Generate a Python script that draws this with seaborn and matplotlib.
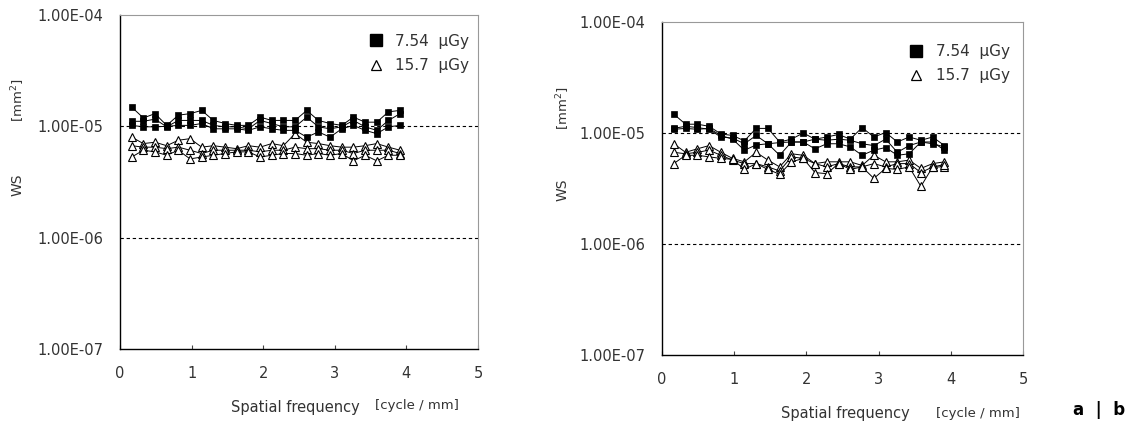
import numpy as np
import pandas as pd
import matplotlib
matplotlib.use("Agg")
import matplotlib.pyplot as plt
from matplotlib.lines import Line2D
import seaborn as sns

sns.set_theme(style="white")
plt.rcParams['font.family'] = ['DejaVu Sans']

# spatial frequency sample points [cycle/mm]
freq = [0.163, 0.326, 0.489, 0.652, 0.815, 0.978, 1.141, 1.304, 1.467, 1.630, 1.793, 1.956,
        2.119, 2.282, 2.445, 2.608, 2.771, 2.934, 3.097, 3.260, 3.423, 3.586, 3.749, 3.912]

# panel a, 7.54 uGy (x1e-5 mm^2)
a_sq1 = [1.49, 1.19, 1.30, 1.02, 1.26, 1.30, 1.39, 1.13, 1.06, 1.02, 1.02, 1.21,
         1.13, 1.13, 1.13, 1.39, 1.13, 1.06, 1.02, 1.21, 1.09, 1.09, 1.35, 1.39]
a_sq2 = [1.11, 1.11, 1.16, 0.99, 1.13, 1.13, 1.13, 1.02, 0.99, 0.99, 0.95, 1.13,
         1.06, 0.99, 0.99, 1.21, 0.99, 0.95, 0.99, 1.13, 0.99, 0.92, 1.13, 1.30]
a_sq3 = [1.02, 0.99, 0.99, 1.00, 1.02, 1.02, 1.06, 0.95, 0.95, 0.95, 0.92, 0.99,
         0.95, 0.92, 0.92, 0.80, 0.89, 0.80, 0.95, 1.02, 0.92, 0.86, 0.99, 1.02]
# panel a, 15.7 uGy (x1e-6 mm^2)
a_tr1 = [8.0, 7.0, 7.2, 6.7, 7.5, 7.75, 6.5, 6.7, 6.5, 6.3, 6.7, 6.5,
         7.0, 6.7, 8.6, 7.2, 7.0, 6.7, 6.5, 6.5, 6.7, 7.0, 6.5, 6.1]
a_tr2 = [6.7, 6.5, 6.5, 6.3, 6.5, 6.1, 5.7, 6.1, 6.1, 6.1, 6.1, 5.9,
         6.1, 6.1, 6.5, 6.3, 6.3, 6.1, 6.1, 5.7, 6.1, 6.1, 6.1, 5.7]
a_tr3 = [5.3, 6.1, 5.9, 5.5, 6.1, 5.1, 5.3, 5.5, 5.7, 5.9, 5.9, 5.3,
         5.5, 5.7, 5.7, 5.5, 5.7, 5.5, 5.7, 4.9, 5.5, 4.9, 5.5, 5.5]

# panel b, 7.54 uGy (x1e-5 mm^2)
b_sq1 = [1.48, 1.20, 1.20, 1.15, 0.98, 0.95, 0.85, 1.10, 1.10, 0.83, 0.88, 1.00,
         0.88, 0.92, 0.97, 0.88, 1.12, 0.92, 1.01, 0.83, 0.92, 0.86, 0.92, 0.77]
b_sq2 = [1.10, 1.15, 1.12, 1.08, 0.92, 0.90, 0.80, 0.95, 0.80, 0.82, 0.83, 0.83,
         0.88, 0.86, 0.88, 0.86, 0.80, 0.77, 0.88, 0.67, 0.77, 0.83, 0.83, 0.70]
b_sq3 = [1.08, 1.10, 1.08, 1.10, 0.95, 0.88, 0.70, 0.78, 0.80, 0.63, 0.83, 0.83,
         0.72, 0.80, 0.80, 0.75, 0.63, 0.70, 0.74, 0.63, 0.65, 0.83, 0.80, 0.75]
# panel b, 15.7 uGy (x1e-6 mm^2)
b_tr1 = [8.0, 6.7, 7.2, 7.7, 6.7, 5.9, 5.5, 6.7, 5.7, 4.95, 6.5, 6.3,
         5.3, 5.5, 5.5, 5.5, 5.1, 6.3, 5.5, 5.5, 5.7, 4.8, 5.3, 5.5]
b_tr2 = [6.7, 6.5, 6.7, 7.0, 6.3, 5.7, 5.3, 5.3, 4.95, 4.55, 6.1, 5.9,
         5.3, 4.95, 5.3, 4.95, 4.95, 5.3, 4.95, 5.3, 5.3, 4.4, 4.95, 4.95]
b_tr3 = [5.3, 6.3, 6.3, 6.1, 5.9, 5.8, 4.7, 5.3, 4.7, 4.25, 5.5, 5.9,
         4.4, 4.3, 5.3, 4.7, 4.95, 3.9, 4.8, 4.7, 4.95, 3.3, 4.95, 5.2]

dose_labels = ["7.54  µGy", "15.7  µGy"]
xticks = [0, 1, 2, 3, 4, 5]
yticks = [1e-7, 1e-6, 1e-5, 1e-4]
ytick_labels = ["1.00E-07", "1.00E-06", "1.00E-05", "1.00E-04"]
xlabel_main = "Spatial frequency"
xlabel_unit = "[cycle / mm]"
ylabel_main = "WS"
ylabel_unit = "[mm$^2$]"

fig = plt.figure(figsize=(11.28, 4.36), dpi=100)
W, H = 1128, 436


def axes_px(x0, x1, y0, y1):
    return fig.add_axes([x0 / W, 1 - y1 / H, (x1 - x0) / W, (y1 - y0) / H])


axA = axes_px(120, 478, 15, 349)
axB = axes_px(662, 1023, 22, 355)

panels = [
    (axA, [a_sq1, a_sq2, a_sq3], [a_tr1, a_tr2, a_tr3], (0.645, 0.985)),
    (axB, [b_sq1, b_sq2, b_sq3], [b_tr1, b_tr2, b_tr3], (0.635, 0.975)),
]

tc = "#333333"
for ax, sqs, trs, legpos in panels:
    for vals in sqs:
        df = pd.DataFrame({"f": freq, "ws": np.array(vals) * 1e-5})
        sns.lineplot(data=df, x="f", y="ws", ax=ax, color="black", lw=0.7,
                     marker="s", markersize=4, markerfacecolor="black",
                     markeredgecolor="black", markeredgewidth=0.5, zorder=4)
    for vals in trs:
        df = pd.DataFrame({"f": freq, "ws": np.array(vals) * 1e-6})
        sns.lineplot(data=df, x="f", y="ws", ax=ax, color="black", lw=0.7,
                     marker="^", markersize=5.5, markerfacecolor="white",
                     markeredgecolor="black", markeredgewidth=0.8, zorder=3)
    ax.set_yscale("log")
    ax.set_ylim(1e-7, 1e-4)
    ax.set_xlim(0, 5)
    ax.set_yticks(yticks)
    ax.set_yticklabels(ytick_labels)
    ax.yaxis.set_minor_locator(matplotlib.ticker.NullLocator())
    ax.set_xticks(xticks)
    ax.set_xticklabels([str(t) for t in xticks])
    ax.tick_params(axis="y", length=0, pad=12, labelsize=10.5, labelcolor=tc)
    ax.tick_params(axis="x", direction="in", length=3, width=0.8, color="#444444",
                   pad=12, labelsize=10.5, labelcolor=tc, bottom=True)
    ax.set_xlabel("")
    ax.set_ylabel("")
    for h in [1e-6, 1e-5]:
        ax.axhline(h, color="black", lw=0.8, ls=(0, (3, 2.5)), zorder=1)
    ax.spines["left"].set_color("black")
    ax.spines["bottom"].set_color("black")
    ax.spines["left"].set_linewidth(1.0)
    ax.spines["bottom"].set_linewidth(1.0)
    ax.spines["top"].set_color("#999999")
    ax.spines["right"].set_color("#999999")
    ax.spines["top"].set_linewidth(0.8)
    ax.spines["right"].set_linewidth(0.8)
    handles = [
        Line2D([], [], ls="none", marker="s", markersize=8, markerfacecolor="black",
               markeredgecolor="black"),
        Line2D([], [], ls="none", marker="^", markersize=7.5, markerfacecolor="white",
               markeredgecolor="black", markeredgewidth=0.9),
    ]
    leg = ax.legend(handles, dose_labels, loc="upper left", bbox_to_anchor=legpos,
                    frameon=False, fontsize=11, handletextpad=0.5, labelspacing=0.6,
                    handlelength=1.5)
    for t in leg.get_texts():
        t.set_color(tc)

# axis titles
axA.text(0.49, -0.175, xlabel_main, transform=axA.transAxes, ha="center", va="center",
         fontsize=10.5, color=tc)
axA.text(0.83, -0.168, xlabel_unit, transform=axA.transAxes, ha="center", va="center",
         fontsize=9.5, color=tc)
axB.text(0.507, -0.175, xlabel_main, transform=axB.transAxes, ha="center", va="center",
         fontsize=10.5, color=tc)
axB.text(0.876, -0.175, xlabel_unit, transform=axB.transAxes, ha="center", va="center",
         fontsize=9.5, color=tc)

for xpx, ypx_ws, ypx_unit in [(18, 185, 100), (563, 190, 108)]:
    fig.text(xpx / W, 1 - ypx_ws / H, ylabel_main, rotation=90, ha="center", va="center",
             fontsize=10, color=tc)
    fig.text(xpx / W, 1 - ypx_unit / H, ylabel_unit, rotation=90, ha="center", va="center",
             fontsize=9.5, color=tc)

fig.text(1099 / W, 1 - 410 / H, "a  |  b", ha="center", va="center", fontsize=12,
         fontweight="bold", color="black")

fig.savefig("out.png", dpi=100, facecolor="white")
